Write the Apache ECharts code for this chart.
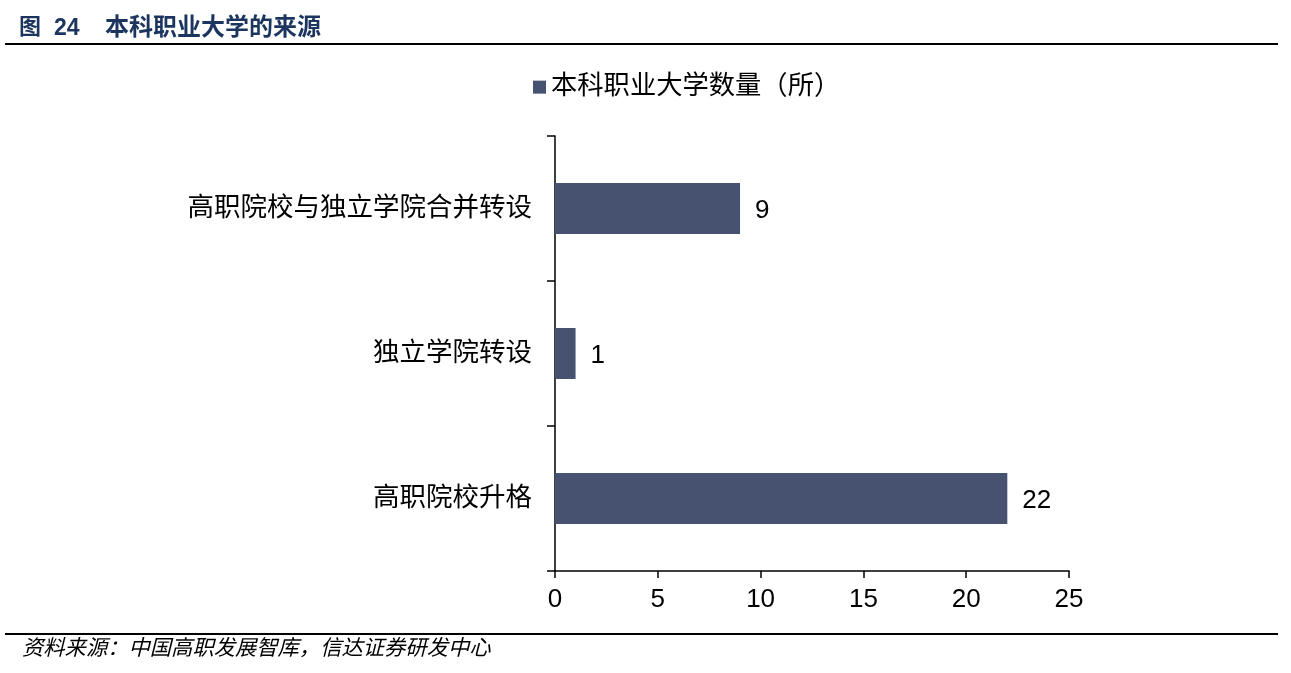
<!DOCTYPE html>
<html>
<head>
<meta charset="utf-8">
<script src="https://cdn.jsdelivr.net/npm/echarts@6/dist/echarts.min.js"></script>
<style>html,body{margin:0;padding:0;background:#fff;}#c{width:1291px;height:673px;}</style>
</head>
<body>
<div id="c"></div>
<script>
const categories = ['高职院校升格', '独立学院转设', '高职院校与独立学院合并转设'];
const values = [22, 1, 9];
const seriesName = '本科职业大学数量（所）';
const xTicks = { min: 0, max: 25, interval: 5 };

const FONT = '"Liberation Sans", "Noto Sans CJK SC", sans-serif';
const chart = echarts.init(document.getElementById('c'));
chart.setOption({
  backgroundColor: '#fff',
  animation: false,
  grid: { left: 555, right: 222, top: 136, bottom: 102, containLabel: false },
  legend: {
    data: [seriesName],
    left: 528, top: 69,
    itemWidth: 13, itemHeight: 13, itemGap: 6,
    icon: 'rect',
    textStyle: { fontSize: 26.3, color: '#000', fontFamily: FONT }
  },
  xAxis: {
    type: 'value', min: xTicks.min, max: xTicks.max, interval: xTicks.interval,
    splitLine: { show: false },
    axisLine: { show: true, lineStyle: { color: '#000', width: 1.5 } },
    axisTick: { show: true, length: 7, lineStyle: { color: '#000', width: 1.5 } },
    axisLabel: { fontSize: 26, color: '#000', fontFamily: FONT, margin: 16 }
  },
  yAxis: {
    type: 'category', data: categories,
    axisLine: { show: true, lineStyle: { color: '#000', width: 1.5 } },
    axisTick: { show: true, length: 8, inside: false, alignWithLabel: false, lineStyle: { color: '#000', width: 1.5 } },
    axisLabel: { fontSize: 26.5, color: '#000', fontFamily: FONT, margin: 23 }
  },
  series: [{
    name: seriesName, type: 'bar', data: values, barWidth: 51,
    itemStyle: { color: '#475170' },
    label: { show: true, position: 'right', distance: 15, offset: [0, 2], fontSize: 26, color: '#000', fontFamily: FONT }
  }],
  graphic: [
    { type: 'text', left: 19, top: 17, style: { text: '图', fontSize: 22, fontWeight: 'bold', fill: '#1c355e', fontFamily: FONT } },
    { type: 'text', left: 54, top: 17, style: { text: '24', fontSize: 23, fontWeight: 'bold', fill: '#1c355e', fontFamily: FONT } },
    { type: 'text', left: 105, top: 16, style: { text: '本科职业大学的来源', fontSize: 24, fontWeight: 'bold', fill: '#1c355e', fontFamily: FONT } },
    { type: 'line', shape: { x1: 5, y1: 44, x2: 1278, y2: 44 }, style: { stroke: '#000', lineWidth: 2 } },
    { type: 'line', shape: { x1: 5, y1: 634, x2: 1278, y2: 634 }, style: { stroke: '#000', lineWidth: 2 } },
    { type: 'text', left: 22, top: 638, style: { text: '资料来源：中国高职发展智库，信达证券研发中心', fontSize: 21.3, fontStyle: 'italic', fill: '#000', fontFamily: FONT } }
  ]
});
</script>
</body>
</html>
